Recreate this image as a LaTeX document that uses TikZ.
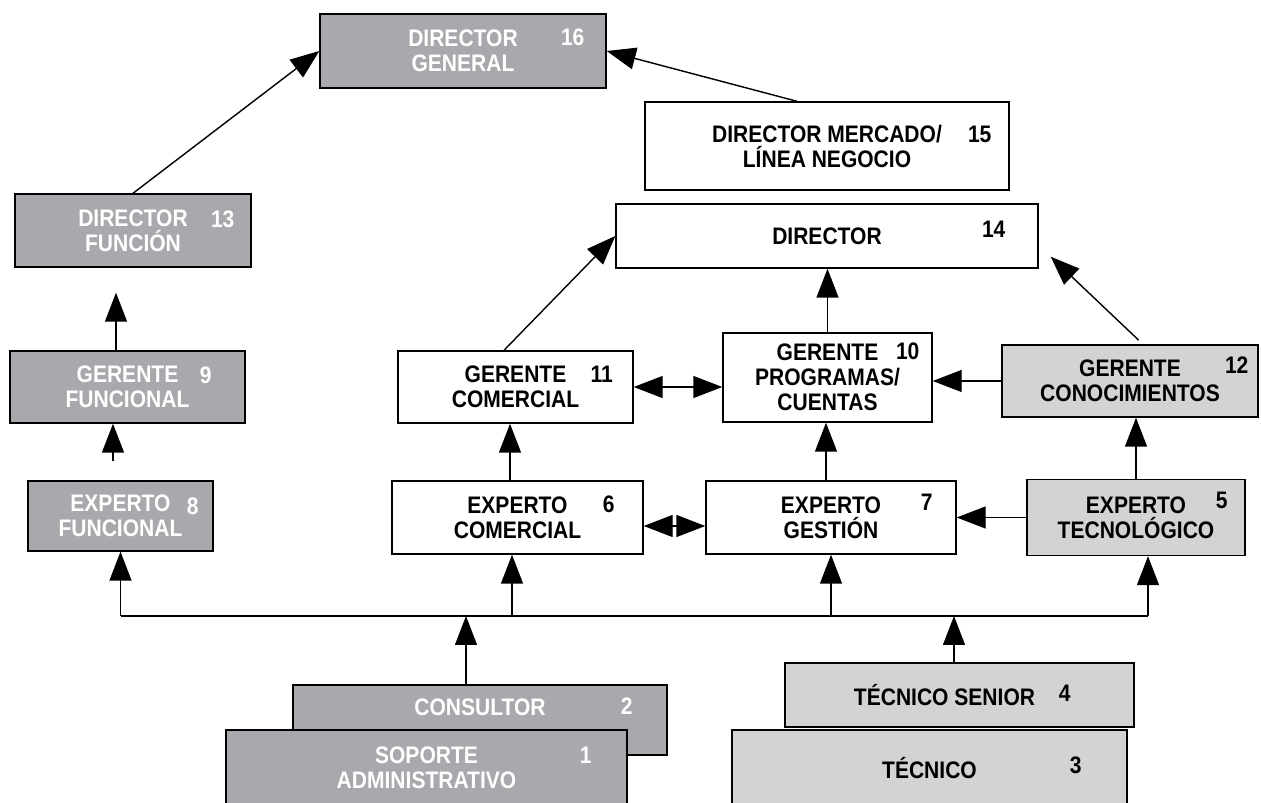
\documentclass[tikz,border=0pt]{standalone}
\usepackage{fontspec}
\setmainfont{Liberation Sans}[FakeStretch=0.88]
\usetikzlibrary{calc,arrows.meta}
\definecolor{dgray}{HTML}{A7A9AC}
\definecolor{lgray}{HTML}{D1D3D4}

\begin{document}
\begin{tikzpicture}[>={Triangle[length=0.58cm,width=0.44cm]}, line width=0.8pt,
     every node/.style = {font=\bfseries\fontsize{13.6}{14.2}\selectfont},
     block/.style = {draw, rectangle, align=center, inner sep=0pt},
     dblock/.style = {block, fill=dgray, text=white},
     lblock/.style = {block, fill=lgray},
     num/.style = {inner sep=0pt},
     dnum/.style = {num, text=white}
    ]
    \useasboundingbox (0,0) rectangle (25.22,-16.06);

    \node [dblock, minimum width=5.72cm, minimum height=1.48cm] (dg) at (9.26,-1.02) {DIRECTOR\\GENERAL};
    \node [block, minimum width=7.28cm, minimum height=1.76cm] (dm) at (16.54,-2.92) {DIRECTOR MERCADO/\hspace{.28cm}\\LÍNEA NEGOCIO\hspace{.28cm}};
    \node [block, below of=dm, node distance=1.8cm, minimum width=8.44cm, minimum height=1.28cm] (dir) {DIRECTOR};
    \node [dblock, minimum width=4.72cm, minimum height=1.46cm] (df) at (2.66,-4.61) {DIRECTOR\\FUNCIÓN};
    \node [dblock, minimum width=4.70cm, minimum height=1.44cm] (gf) at (2.55,-7.74) {GERENTE\hspace{.46cm}\\FUNCIONAL\hspace{.46cm}};
    \node [block, right of=gf, node distance=7.76cm, minimum width=4.70cm, minimum height=1.44cm] (gc) {GERENTE\\COMERCIAL};
    \node [block, minimum width=4.18cm, minimum height=1.78cm] (gp) at (16.55,-7.55) {GERENTE\\PROGRAMAS/\\CUENTAS};
    \node [lblock, minimum width=5.12cm, minimum height=1.44cm] (gk) at (22.60,-7.62) {GERENTE\\CONOCIMIENTOS};
    \node [dblock, minimum width=3.70cm, minimum height=1.40cm] (ef) at (2.41,-10.32) {EXPERTO\hspace{.34cm}\\FUNCIONAL\hspace{.34cm}};
    \node [block, minimum width=5.02cm, minimum height=1.46cm] (ec) at (10.35,-10.35) {EXPERTO\\COMERCIAL};
    \node [block, right of=ec, node distance=6.27cm, minimum width=5.00cm, minimum height=1.46cm] (eg) {EXPERTO\\GESTIÓN};
    \node [lblock, right of=eg, node distance=6.10cm, minimum width=4.36cm, minimum height=1.52cm] (et) {EXPERTO\\TECNOLÓGICO};
    \node [dblock, minimum width=7.48cm, minimum height=1.40cm, text depth=.5cm] (cs) at (9.60,-14.40) {CONSULTOR};
    \node [dblock, minimum width=8.02cm, minimum height=1.52cm] (sa) at (8.53,-15.36) {SOPORTE\\ADMINISTRATIVO};
    \node [lblock, minimum width=6.98cm, minimum height=1.28cm] (ts) at (19.19,-13.90) {TÉCNICO SENIOR\hspace{.6cm}};
    \node [lblock, minimum width=7.90cm, minimum height=1.52cm] (tc) at (18.59,-15.36) {TÉCNICO};

    \node [dnum] (n16) at ($(dg.north east)+(-.68,-.47)$) {16};
    \node [num] (n15) at ($(dm.north east)+(-.60,-.67)$) {15};
    \node [num] (n14) at ($(dir.north east)+(-.90,-.52)$) {14};
    \node [dnum] (n13) at ($(df.north east)+(-.58,-.52)$) {13};
    \node [dnum] (n9) at ($(gf.north east)+(-.80,-.50)$) {9};
    \node [num] (n11) at ($(gc.north east)+(-.64,-.48)$) {11};
    \node [num] (n10) at ($(gp.north east)+(-.50,-.38)$) {10};
    \node [num] (n12) at ($(gk.north east)+(-.44,-.42)$) {12};
    \node [dnum] (n8) at ($(ef.north east)+(-.42,-.52)$) {8};
    \node [num] (n6) at ($(ec.north east)+(-.70,-.48)$) {6};
    \node [num] (n7) at ($(eg.north east)+(-.60,-.44)$) {7};
    \node [num] (n5) at ($(et.north east)+(-.48,-.44)$) {5};
    \node [dnum] (n2) at ($(cs.north east)+(-.82,-.44)$) {2};
    \node [dnum] (n1) at ($(sa.north east)+(-.84,-.52)$) {1};
    \node [num] (n4) at ($(ts.north east)+(-1.40,-.62)$) {4};
    \node [num] (n3) at ($(tc.north east)+(-1.04,-.72)$) {3};

    \draw[->] (df.north) -- (dg.west);
    \draw[->] ([xshift=-.6cm]dm.north) -- (dg.east);
    \draw[->,shorten >=.5cm] ([xshift=-.23cm]gf.north) -- ([xshift=-.23cm]gf.north |- df.south);
    \draw[->,shorten <=.38cm] ([xshift=-.15cm]ef.north) -- ([xshift=-.15cm]ef.north |- gf.south);
    \draw[->] ([xshift=-.23cm]gc.north) -- (dir.west);
    \draw[->] (gp.north) -- (gp.north |- dir.south);
    \coordinate (t14) at ($(dir.south east)+(.24,.24)$);
    \draw[->,shorten <=.12cm] ([xshift=.26cm]gk.north) -- (t14);
    \draw[<->] (gc.east) -- (gc.east -| gp.west);
    \draw[->] (gk.west) -- (gk.west -| gp.east);
    \draw[->] ([xshift=-.15cm]ec.north) -- ([xshift=-.15cm]ec.north |- gc.south);
    \draw[->] ([xshift=-.1cm]eg.north) -- ([xshift=-.1cm]eg.north |- gp.south);
    \draw[->] (et.north) -- (et.north |- gk.south);
    \draw[<->] ([yshift=-.17cm]ec.east) -- ([yshift=-.17cm]ec.east -| eg.west);
    \draw[->] (et.west) -- (et.west -| eg.east);
    \coordinate (bus) at (0,-12.32);
    \draw (ef.south |- bus) -- ([xshift=.24cm]et.south |- bus);
    \draw[->] (ef.south |- bus) -- (ef.south);
    \draw[->] ([xshift=-.11cm]ec.south |- bus) -- ([xshift=-.11cm]ec.south);
    \draw[->] (eg.south |- bus) -- (eg.south);
    \draw[->] ([xshift=.24cm]et.south |- bus) -- ([xshift=.24cm]et.south);
    \draw[->] ([xshift=-.28cm]cs.north) -- ([xshift=-.28cm]cs.north |- bus);
    \draw[->] ([xshift=-.11cm]ts.north) -- ([xshift=-.11cm]ts.north |- bus);

\end{tikzpicture}
\end{document}
